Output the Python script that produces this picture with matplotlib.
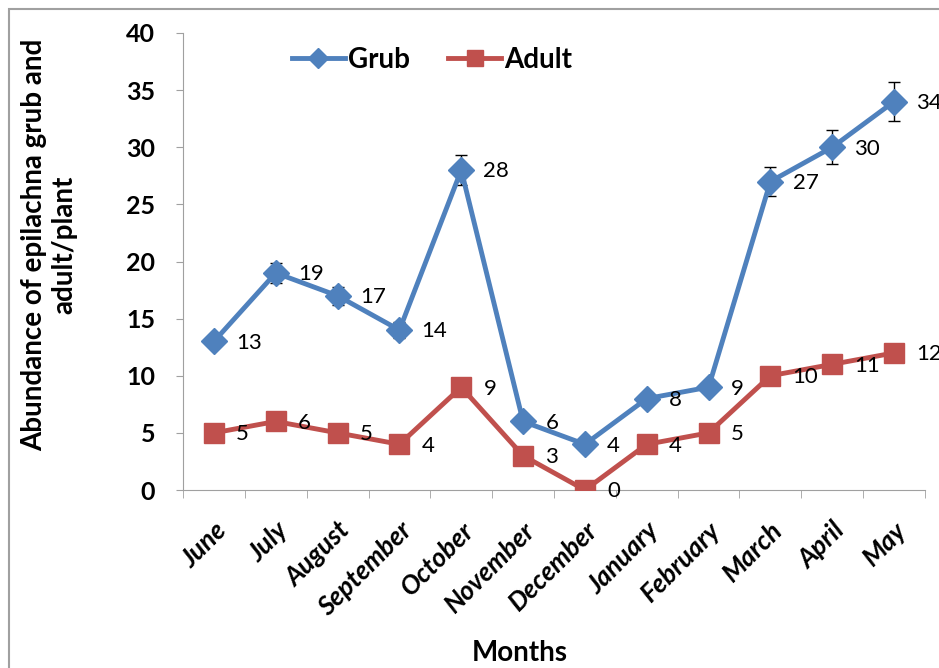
import numpy as np
import matplotlib.pyplot as plt
from matplotlib.patches import Rectangle

months = ['June', 'July', 'August', 'September', 'October', 'November',
          'December', 'January', 'February', 'March', 'April', 'May']
grub = [13, 19, 17, 14, 28, 6, 4, 8, 9, 27, 30, 34]
grub_err = [0.5, 0.9, 0.8, 0.7, 1.3, 0.3, 0.2, 0.4, 0.45, 1.3, 1.5, 1.7]
adult = [5, 6, 5, 4, 9, 3, 0, 4, 5, 10, 11, 12]

blue = '#4F81BD'
red = '#C0504D'
plt.rcParams['font.family'] = ['Lato', 'DejaVu Sans']

fig = plt.figure(figsize=(9.39, 6.68), dpi=100)
ax = fig.add_axes([183 / 939, 1 - 490 / 668, 742 / 939, 457 / 668])
x = np.arange(len(months))

ax.errorbar(x, grub, yerr=grub_err, fmt='none', ecolor='black', elinewidth=1,
            capsize=4, capthick=1, zorder=2)
ax.plot(x, grub, color=blue, lw=3.5, marker='D', ms=13, label='Grub', zorder=3)
ax.plot(x, adult, color=red, lw=3.5, marker='s', ms=14, label='Adult', zorder=3)

for xi, v in zip(x, grub):
    ax.annotate(str(v), (xi, v), xytext=(16, -1), textcoords='offset points',
                ha='left', va='center', fontsize=16)
for xi, v in zip(x, adult):
    ax.annotate(str(v), (xi, v), xytext=(16, -1), textcoords='offset points',
                ha='left', va='center', fontsize=16)

ax.set_xlim(-0.5, 11.5)
ax.set_ylim(0, 40)
ax.set_yticks(range(0, 41, 5))
ax.set_xticks(x)
ax.set_xticklabels(months, rotation=45, ha='right', rotation_mode='anchor',
                   fontsize=19, fontweight='bold', fontstyle='italic')
ax.set_xticks(np.arange(-0.5, 12, 1), minor=True)
ax.tick_params(axis='x', which='major', length=0, pad=20)
ax.tick_params(axis='x', which='minor', length=6, color='#A0A0A0', direction='out')
ax.tick_params(axis='y', length=5, color='#A0A0A0', direction='out', pad=15)
for lab in ax.get_yticklabels():
    lab.set_fontsize(18)
    lab.set_fontweight('bold')

for s in ['top', 'right']:
    ax.spines[s].set_visible(False)
for s in ['left', 'bottom']:
    ax.spines[s].set_color('#A0A0A0')

fig.text(49 / 939, 1 - 245 / 668, 'Abundance of epilachna grub and\nadult/plant',
         rotation=90, ha='center', va='center', multialignment='center',
         fontsize=20, fontweight='bold')
fig.text(520 / 939, 1 - 653 / 668, 'Months', ha='center', va='center',
         fontsize=20, fontweight='bold')

ax.legend(loc='center', bbox_to_anchor=(432 / 939, 1 - 60 / 668),
          bbox_transform=fig.transFigure, ncol=2, frameon=False,
          prop={'size': 20, 'weight': 'bold'}, handlelength=1.9,
          handletextpad=0.1, columnspacing=1.4, markerscale=0.8)

fig.patches.append(Rectangle((9 / 939, -0.1), 1.2, 1 - 9 / 668 + 0.1,
                             transform=fig.transFigure, fill=False,
                             edgecolor='#A0A0A0', lw=1.5))

fig.savefig('out.png', dpi=100)
